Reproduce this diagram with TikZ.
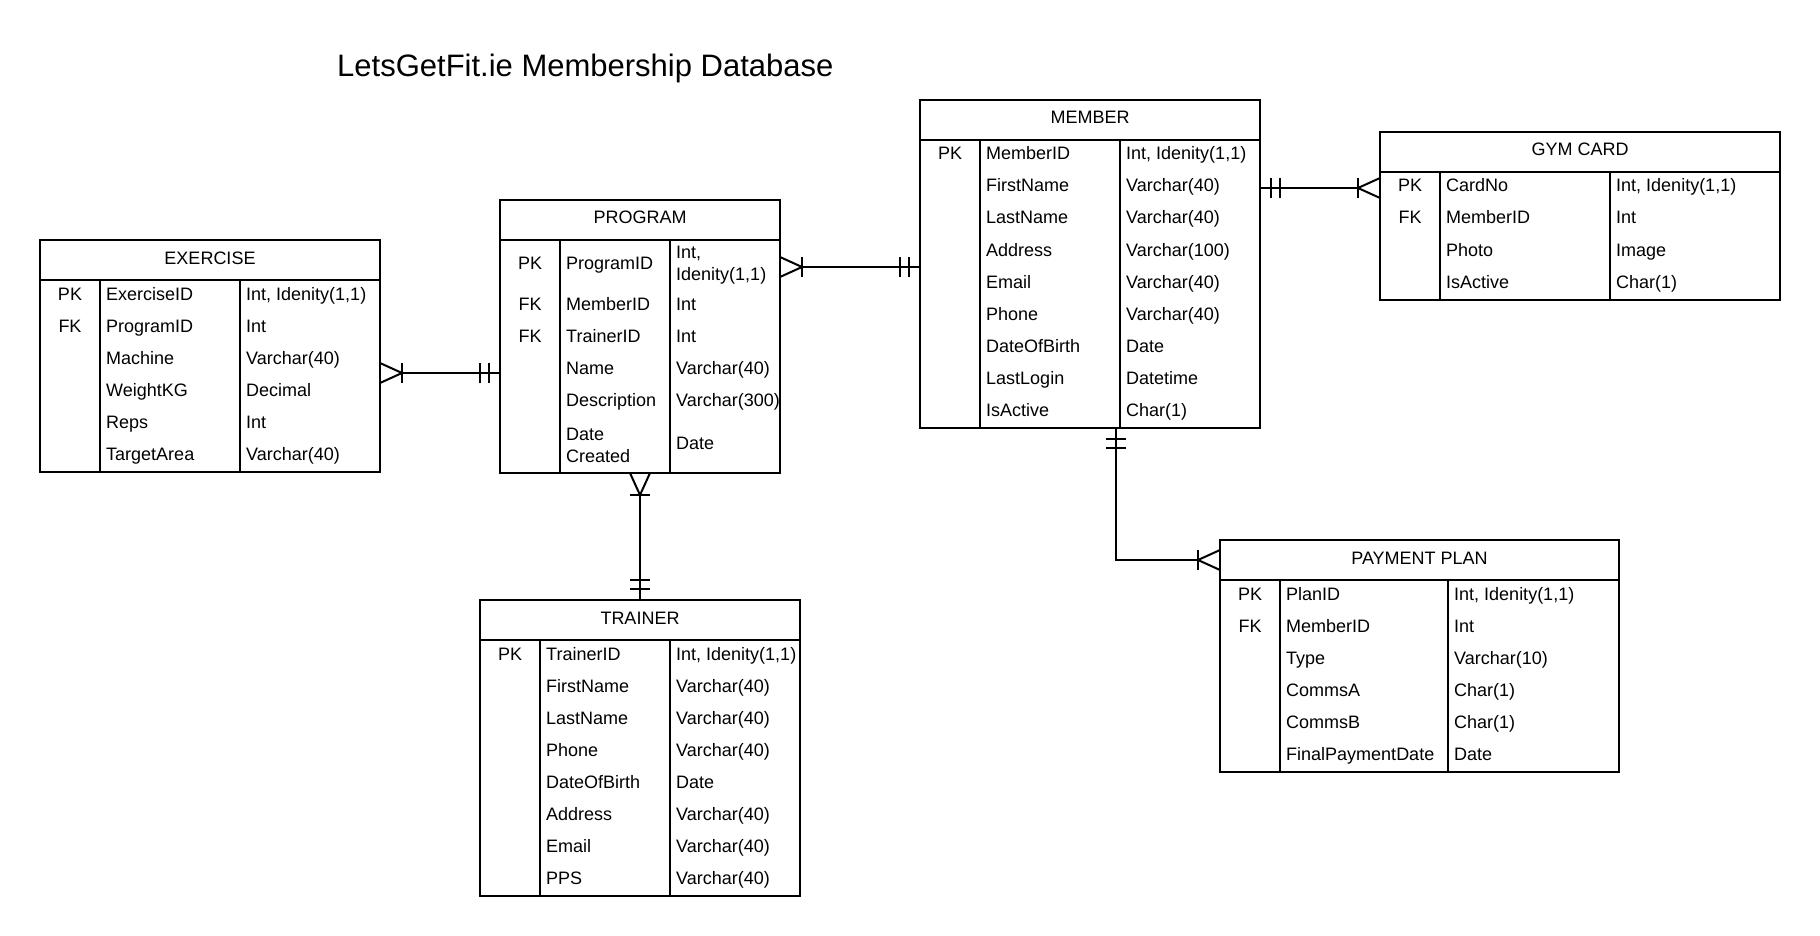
\documentclass[tikz,border=0pt]{standalone}
\usepackage{fontspec}
\setmainfont{Liberation Sans}
\usepackage{tikz}
\usetikzlibrary{positioning, calc}

\newcommand{\cellfont}{\fontsize{18}{22}\selectfont}

\tikzset{
  tblhead/.style={draw, line width=2pt, outer sep=0pt, inner sep=0pt, minimum height=40pt, anchor=north west, font=\cellfont, text height=9pt, text depth=1pt},
  tblcol/.style={draw, line width=2pt, outer sep=0pt, inner sep=0pt},
  keytext/.style={inner sep=0pt, font=\cellfont, text height=9pt, text depth=1pt},
  celltext/.style={inner sep=0pt, anchor=west, font=\cellfont, text height=9pt, text depth=1pt},
  twoline/.style={inner sep=0pt, anchor=west, font=\cellfont, align=left},
  rel/.style={line width=2pt},
  pics/crowfoot/.style={code={
    \draw[rel] (0,10) -- (22,0) -- (0,-10);
    \draw[rel] (22,10) -- (22,-10);
  }},
  pics/onlyone/.style={code={
    \draw[rel] (11,10) -- (11,-10) (20,10) -- (20,-10);
  }}
}

\begin{document}
\begin{tikzpicture}[x=1pt, y=1pt]
    \useasboundingbox[fill=white] (0,0) rectangle (1820,-936);

    \node[anchor=base west, inner sep=0pt, font=\fontsize{31}{36}\selectfont] (title) at (337,-77) {LetsGetFit.ie Membership Database};

    % EXERCISE
    \node[tblhead, minimum width=340] (exercise) at (40,-240) {EXERCISE};
    \node[tblcol, minimum width=60, minimum height=192, below right=0pt and 0pt of exercise.south west] (exercise-k) {};
    \node[tblcol, minimum width=140, minimum height=192, right=0pt of exercise-k] (exercise-f) {};
    \node[tblcol, minimum width=140, minimum height=192, right=0pt of exercise-f] (exercise-t) {};
    \foreach \pk/\fld/\typ [count=\i] in {PK/ExerciseID/{Int, Idenity(1,1)}, FK/ProgramID/Int, {}/Machine/Varchar(40), {}/WeightKG/Decimal, {}/Reps/Int, {}/TargetArea/Varchar(40)} {
        \node[keytext] (exercise-k\i) at ($(exercise-k.north)+(0,{16-32*\i})$) {\pk};
        \node[celltext] (exercise-f\i) at ($(exercise-f.north west)+(6,{16-32*\i})$) {\fld};
        \node[celltext] (exercise-t\i) at ($(exercise-t.north west)+(6,{16-32*\i})$) {\typ};
    }

    % PROGRAM
    \node[tblhead, minimum width=280] (program) at (500,-200) {PROGRAM};
    \node[tblcol, minimum width=60, minimum height=233, below right=0pt and 0pt of program.south west] (program-k) {};
    \node[tblcol, minimum width=110, minimum height=233, right=0pt of program-k] (program-f) {};
    \node[tblcol, minimum width=110, minimum height=233, right=0pt of program-f] (program-t) {};
    \node[keytext] (program-k1) at ($(program-k.north)+(0,-25)$) {PK};
    \node[celltext] (program-f1) at ($(program-f.north west)+(6,-25)$) {ProgramID};
    \node[twoline] (program-t1) at ($(program-t.north west)+(6,-25)$) {Int,\\Idenity(1,1)};
    \foreach \y/\pk/\fld/\typ [count=\i from 2] in {66/FK/MemberID/Int, 98/FK/TrainerID/Int, 130/{}/Name/Varchar(40), 162/{}/Description/Varchar(300)} {
        \node[keytext] (program-k\i) at ($(program-k.north)+(0,-\y)$) {\pk};
        \node[celltext] (program-f\i) at ($(program-f.north west)+(6,-\y)$) {\fld};
        \node[celltext] (program-t\i) at ($(program-t.north west)+(6,-\y)$) {\typ};
    }
    \node[twoline] (program-f6) at ($(program-f.north west)+(6,-205.5)$) {Date\\Created};
    \node[celltext] (program-t6) at ($(program-t.north west)+(6,-205.5)$) {Date};

    % MEMBER
    \node[tblhead, minimum width=340] (member) at (920,-100) {MEMBER};
    \node[tblcol, minimum width=60, minimum height=288, below right=0pt and 0pt of member.south west] (member-k) {};
    \node[tblcol, minimum width=140, minimum height=288, right=0pt of member-k] (member-f) {};
    \node[tblcol, minimum width=140, minimum height=288, right=0pt of member-f] (member-t) {};
    \foreach \pk/\fld/\typ [count=\i] in {PK/MemberID/{Int, Idenity(1,1)}, {}/FirstName/Varchar(40), {}/LastName/Varchar(40), {}/Address/Varchar(100), {}/Email/Varchar(40), {}/Phone/Varchar(40), {}/DateOfBirth/Date, {}/LastLogin/Datetime, {}/IsActive/Char(1)} {
        \node[keytext] (member-k\i) at ($(member-k.north)+(0,{16-32*\i})$) {\pk};
        \node[celltext] (member-f\i) at ($(member-f.north west)+(6,{16-32*\i})$) {\fld};
        \node[celltext] (member-t\i) at ($(member-t.north west)+(6,{16-32*\i})$) {\typ};
    }

    % GYM CARD
    \node[tblhead, minimum width=400] (gymcard) at (1380,-132) {GYM CARD};
    \node[tblcol, minimum width=60, minimum height=128, below right=0pt and 0pt of gymcard.south west] (gymcard-k) {};
    \node[tblcol, minimum width=170, minimum height=128, right=0pt of gymcard-k] (gymcard-f) {};
    \node[tblcol, minimum width=170, minimum height=128, right=0pt of gymcard-f] (gymcard-t) {};
    \foreach \pk/\fld/\typ [count=\i] in {PK/CardNo/{Int, Idenity(1,1)}, FK/MemberID/Int, {}/Photo/Image, {}/IsActive/Char(1)} {
        \node[keytext] (gymcard-k\i) at ($(gymcard-k.north)+(0,{16-32*\i})$) {\pk};
        \node[celltext] (gymcard-f\i) at ($(gymcard-f.north west)+(6,{16-32*\i})$) {\fld};
        \node[celltext] (gymcard-t\i) at ($(gymcard-t.north west)+(6,{16-32*\i})$) {\typ};
    }

    % TRAINER
    \node[tblhead, minimum width=320] (trainer) at (480,-600) {TRAINER};
    \node[tblcol, minimum width=60, minimum height=256, below right=0pt and 0pt of trainer.south west] (trainer-k) {};
    \node[tblcol, minimum width=130, minimum height=256, right=0pt of trainer-k] (trainer-f) {};
    \node[tblcol, minimum width=130, minimum height=256, right=0pt of trainer-f] (trainer-t) {};
    \foreach \pk/\fld/\typ [count=\i] in {PK/TrainerID/{Int, Idenity(1,1)}, {}/FirstName/Varchar(40), {}/LastName/Varchar(40), {}/Phone/Varchar(40), {}/DateOfBirth/Date, {}/Address/Varchar(40), {}/Email/Varchar(40), {}/PPS/Varchar(40)} {
        \node[keytext] (trainer-k\i) at ($(trainer-k.north)+(0,{16-32*\i})$) {\pk};
        \node[celltext] (trainer-f\i) at ($(trainer-f.north west)+(6,{16-32*\i})$) {\fld};
        \node[celltext] (trainer-t\i) at ($(trainer-t.north west)+(6,{16-32*\i})$) {\typ};
    }

    % PAYMENT PLAN
    \node[tblhead, minimum width=399] (payment) at (1220,-540) {PAYMENT PLAN};
    \node[tblcol, minimum width=60, minimum height=192, below right=0pt and 0pt of payment.south west] (payment-k) {};
    \node[tblcol, minimum width=168, minimum height=192, right=0pt of payment-k] (payment-f) {};
    \node[tblcol, minimum width=171, minimum height=192, right=0pt of payment-f] (payment-t) {};
    \foreach \pk/\fld/\typ [count=\i] in {PK/PlanID/{Int, Idenity(1,1)}, FK/MemberID/Int, {}/Type/Varchar(10), {}/CommsA/Char(1), {}/CommsB/Char(1), {}/FinalPaymentDate/Date} {
        \node[keytext] (payment-k\i) at ($(payment-k.north)+(0,{16-32*\i})$) {\pk};
        \node[celltext] (payment-f\i) at ($(payment-f.north west)+(6,{16-32*\i})$) {\fld};
        \node[celltext] (payment-t\i) at ($(payment-t.north west)+(6,{16-32*\i})$) {\typ};
    }

    % relationships
    \coordinate (ex-out) at ($(exercise-t.north east)+(0,-93)$);
    \coordinate (pg-out) at ($(program-t.north east)+(0,-27)$);
    \coordinate (mb-out) at ($(member-t.north east)+(0,-48)$);
    \coordinate (mb-down) at ($(member-t.south west)+(-4,0)$);
    \coordinate (pg-down) at (program-k.south -| program.south);

    \draw[rel, shorten <=22pt] (ex-out) -- (ex-out -| program-k.west);
    \draw[rel, shorten <=22pt] (pg-out) -- (pg-out -| member-k.west);
    \draw[rel, shorten >=22pt] (mb-out) -- (mb-out -| gymcard-k.west);
    \draw[rel, shorten >=22pt] (mb-down) |- (payment.west);
    \draw[rel, shorten <=22pt] (pg-down) -- (trainer.north);

    \pic at (ex-out) {crowfoot};
    \pic[rotate=180] at (ex-out -| program-k.west) {onlyone};
    \pic at (pg-out) {crowfoot};
    \pic[rotate=180] at (pg-out -| member-k.west) {onlyone};
    \pic at (mb-out) {onlyone};
    \pic[rotate=180] at (mb-out -| gymcard-k.west) {crowfoot};
    \pic[rotate=-90] at (mb-down) {onlyone};
    \pic[rotate=180] at (payment.west) {crowfoot};
    \pic[rotate=-90] at (pg-down) {crowfoot};
    \pic[rotate=90] at (trainer.north) {onlyone};
\end{tikzpicture}
\end{document}
